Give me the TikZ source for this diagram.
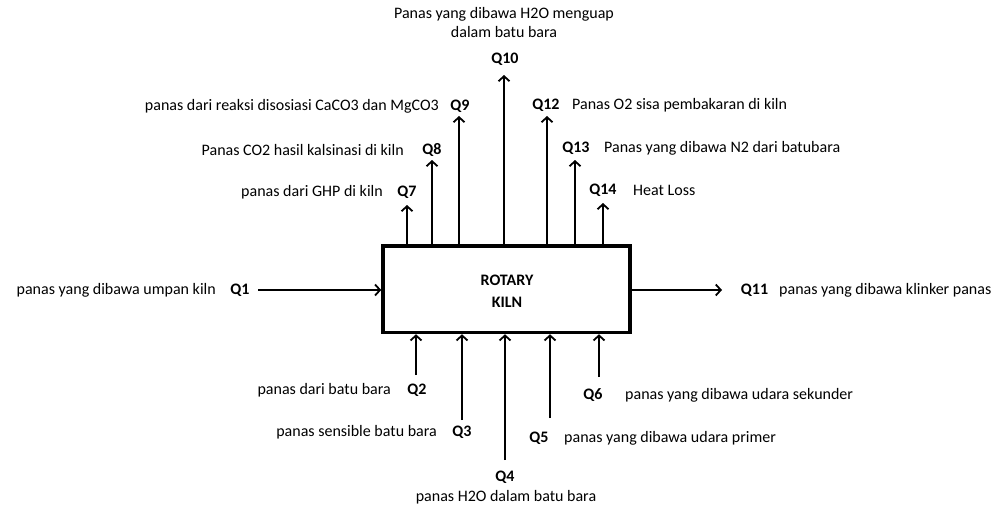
\documentclass[tikz,border=0pt]{standalone}
\usepackage{fontspec}
\setmainfont{Carlito}
\usetikzlibrary{arrows.meta}
\begin{document}
\begin{tikzpicture}[x=1pt,y=-1pt,
  every node/.style={inner sep=0pt,font=\fontsize{16}{19}\selectfont},
  ql/.style={font=\fontsize{16}{19}\selectfont\bfseries},
  arr/.style={line width=1.8pt,-{Straight Barb[length=5pt,width=11pt,line width=1.8pt]}},
  kilnbox/.style={draw,line width=3.5pt,minimum width=247pt,minimum height=86.5pt,align=center}]
\useasboundingbox (0,0) rectangle (1003,508);
\node[kilnbox] (kiln) at (506.5,289.25) {};
\node[ql,align=center] (kt) at (507,291) {ROTARY\\[3pt]KILN};
% left input
\node[ql] (q1) at (240,290) {Q1};
\node[anchor=east] (d1) at (216,290) {panas yang dibawa umpan kiln};
\coordinate (s1) at (258,290);
\draw[arr] (s1) -- (s1 -| kiln.west);
% right output
\coordinate (e11) at (722,290);
\draw[arr] (e11 -| kiln.east) -- (e11);
\node[ql] (q11) at (754.5,290) {Q11};
\node[anchor=west] (d11) at (779,290) {panas yang dibawa klinker panas};
% top outputs
\coordinate (t7) at (407,205);
\coordinate (t8) at (432,160);
\coordinate (t9) at (459,116);
\coordinate (t10) at (504,75);
\coordinate (t12) at (547,116);
\coordinate (t13) at (575,160);
\coordinate (t14) at (603,203);
\foreach \t in {t7,t8,t9,t10,t12,t13,t14}{
  \draw[arr] (\t |- kiln.north) -- (\t);
}
\node[ql] (q7) at (407,192) {Q7};
\node[anchor=east] (d7) at (383,192) {panas dari GHP di kiln};
\node[ql] (q8) at (432,150) {Q8};
\node[anchor=east] (d8) at (404,150) {Panas CO2 hasil kalsinasi di kiln};
\node[ql] (q9) at (460,106) {Q9};
\node[anchor=east] (d9) at (439,106) {panas dari reaksi disosiasi CaCO3 dan MgCO3};
\node[ql] (q10) at (505,59) {Q10};
\node[align=center] (d10) at (504,23) {Panas yang dibawa H2O menguap\\dalam batu bara};
\node[ql] (q12) at (546,105) {Q12};
\node[anchor=west] (d12) at (572,105) {Panas O2 sisa pembakaran di kiln};
\node[ql] (q13) at (576,148) {Q13};
\node[anchor=west] (d13) at (604,148) {Panas yang dibawa N2 dari batubara};
\node[ql] (q14) at (603,190) {Q14};
\node[anchor=west] (d14) at (633,190) {Heat Loss};
% bottom inputs
\coordinate (b2) at (416,375);
\coordinate (b3) at (462,420);
\coordinate (b4) at (505,460);
\coordinate (b5) at (550,418);
\coordinate (b6) at (599,377);
\foreach \b in {b2,b3,b4,b5,b6}{
  \draw[arr] (\b) -- (\b |- kiln.south);
}
\node[ql] (q2) at (417,390) {Q2};
\node[anchor=east] (d2) at (391,390) {panas dari batu bara};
\node[ql] (q3) at (462,432) {Q3};
\node[anchor=east] (d3) at (437,432) {panas sensible batu bara};
\node[ql] (q4) at (505,477) {Q4};
\node (d4) at (506,497) {panas H2O dalam batu bara};
\node[ql] (q5) at (539,438) {Q5};
\node[anchor=west] (d5) at (564,438) {panas yang dibawa udara primer};
\node[ql] (q6) at (593,395) {Q6};
\node[anchor=west] (d6) at (625,395) {panas yang dibawa udara sekunder};
\end{tikzpicture}
\end{document}
